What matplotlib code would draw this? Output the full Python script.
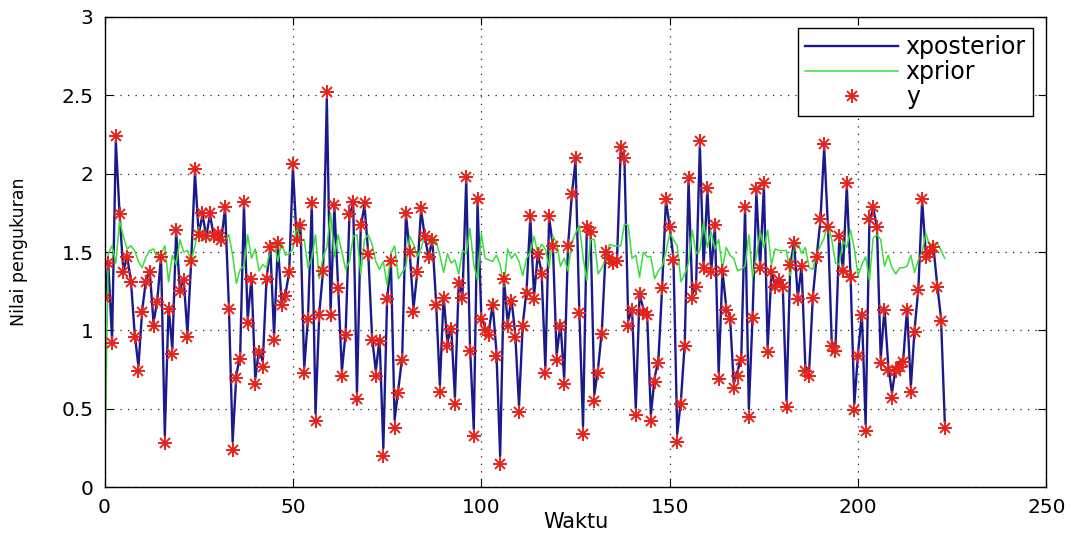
import matplotlib
matplotlib.use('Agg')
import matplotlib.pyplot as plt
from matplotlib.legend_handler import HandlerTuple
import numpy as np

y = [1.21, 1.43, 0.92, 2.24, 1.74, 1.37, 1.47, 1.31, 0.96, 0.74, 1.12, 1.31,
     1.37, 1.03, 1.18, 1.47, 0.28, 1.14, 0.85, 1.64, 1.25, 1.32, 0.96, 1.44,
     2.03, 1.61, 1.75, 1.60, 1.75, 1.60, 1.62, 1.58, 1.79, 1.14, 0.24, 0.70,
     0.82, 1.82, 1.05, 1.33, 0.66, 0.86, 0.77, 1.33, 1.53, 0.94, 1.56, 1.16,
     1.22, 1.37, 2.06, 1.58, 1.67, 0.73, 1.07, 1.81, 0.42, 1.10, 1.38, 2.52,
     1.10, 1.80, 1.27, 0.71, 0.97, 1.74, 1.82, 0.56, 1.67, 1.81, 1.49, 0.94,
     0.71, 0.93, 0.20, 1.20, 1.44, 0.38, 0.60, 0.81, 1.75, 1.50, 1.12, 1.37,
     1.78, 1.60, 1.47, 1.58, 1.16, 0.61, 1.21, 0.90, 1.01, 0.53, 1.30, 1.21,
     1.98, 0.87, 0.33, 1.84, 1.07, 1.00, 0.97, 1.16, 0.84, 0.15, 1.33, 1.03,
     1.19, 0.96, 0.48, 1.03, 1.24, 1.73, 1.20, 1.49, 1.36, 0.73, 1.73, 1.54,
     0.81, 1.03, 0.66, 1.54, 1.87, 2.10, 1.11, 0.34, 1.66, 1.63, 0.55, 0.73,
     0.98, 1.50, 1.46, 1.43, 1.44, 2.17, 2.10, 1.03, 1.13, 0.46, 1.23, 1.12,
     1.10, 0.42, 0.67, 0.79, 1.27, 1.84, 1.66, 1.45, 0.29, 0.53, 0.90, 1.97,
     1.21, 1.28, 2.21, 1.40, 1.91, 1.37, 1.67, 0.69, 1.38, 1.13, 1.07, 0.63,
     0.71, 0.81, 1.79, 0.45, 1.08, 1.90, 1.40, 1.94, 0.86, 1.37, 1.28, 1.32,
     1.28, 0.51, 1.42, 1.56, 1.20, 1.41, 0.74, 0.71, 1.21, 1.47, 1.71, 2.19,
     1.66, 0.90, 0.87, 1.60, 1.38, 1.94, 1.34, 0.49, 0.84, 1.10, 0.36, 1.71,
     1.79, 1.66, 0.79, 1.13, 0.75, 0.57, 0.74, 0.77, 0.80, 1.13, 0.61, 0.99,
     1.26, 1.84, 1.47, 1.50, 1.53, 1.28, 1.06, 0.38]

# green line
xprior = [0.00, 1.49, 1.54, 1.43, 1.70, 1.60, 1.52, 1.54, 1.51, 1.44, 1.40, 1.47,
          1.51, 1.52, 1.46, 1.49, 1.54, 1.31, 1.48, 1.42, 1.58, 1.50, 1.51, 1.44,
          1.54, 1.66, 1.57, 1.60, 1.57, 1.60, 1.57, 1.57, 1.57, 1.61, 1.48, 1.30,
          1.39, 1.41, 1.61, 1.46, 1.52, 1.38, 1.42, 1.40, 1.52, 1.56, 1.44, 1.56,
          1.48, 1.49, 1.52, 1.66, 1.57, 1.58, 1.40, 1.46, 1.61, 1.33, 1.47, 1.53,
          1.75, 1.47, 1.61, 1.50, 1.39, 1.44, 1.60, 1.61, 1.36, 1.58, 1.61, 1.55,
          1.44, 1.39, 1.44, 1.29, 1.49, 1.54, 1.33, 1.37, 1.41, 1.60, 1.55, 1.47,
          1.52, 1.61, 1.57, 1.54, 1.57, 1.48, 1.37, 1.49, 1.43, 1.45, 1.36, 1.51,
          1.49, 1.65, 1.42, 1.32, 1.62, 1.46, 1.45, 1.44, 1.48, 1.42, 1.28, 1.52,
          1.46, 1.49, 1.44, 1.35, 1.46, 1.50, 1.60, 1.49, 1.55, 1.52, 1.40, 1.60,
          1.56, 1.41, 1.46, 1.38, 1.56, 1.62, 1.67, 1.47, 1.32, 1.58, 1.58, 1.36,
          1.40, 1.45, 1.55, 1.54, 1.54, 1.54, 1.68, 1.67, 1.46, 1.48, 1.34, 1.50,
          1.47, 1.47, 1.33, 1.38, 1.41, 1.50, 1.62, 1.58, 1.54, 1.31, 1.36, 1.43,
          1.64, 1.49, 1.51, 1.69, 1.53, 1.63, 1.52, 1.58, 1.39, 1.53, 1.48, 1.46,
          1.38, 1.39, 1.41, 1.61, 1.34, 1.47, 1.63, 1.53, 1.64, 1.42, 1.52, 1.51,
          1.51, 1.51, 1.35, 1.53, 1.56, 1.49, 1.53, 1.40, 1.39, 1.49, 1.54, 1.59,
          1.69, 1.58, 1.43, 1.42, 1.57, 1.53, 1.64, 1.52, 1.35, 1.42, 1.47, 1.32,
          1.59, 1.61, 1.58, 1.41, 1.48, 1.40, 1.36, 1.40, 1.40, 1.41, 1.48, 1.37,
          1.45, 1.50, 1.62, 1.54, 1.55, 1.56, 1.51, 1.46]

# blue line
xposterior = [1.16, 1.43, 0.94, 2.21, 1.74, 1.38, 1.47, 1.32, 0.98, 0.77, 1.13, 1.32,
              1.38, 1.05, 1.19, 1.47, 0.33, 1.15, 0.88, 1.63, 1.26, 1.33, 0.98, 1.44,
              2.01, 1.61, 1.74, 1.60, 1.74, 1.60, 1.62, 1.58, 1.78, 1.16, 0.29, 0.72,
              0.84, 1.80, 1.07, 1.34, 0.69, 0.88, 0.80, 1.33, 1.53, 0.97, 1.55, 1.18,
              1.23, 1.37, 2.04, 1.58, 1.67, 0.76, 1.08, 1.80, 0.47, 1.11, 1.38, 2.48,
              1.13, 1.79, 1.28, 0.74, 0.99, 1.73, 1.81, 0.60, 1.66, 1.80, 1.49, 0.96,
              0.74, 0.95, 0.25, 1.20, 1.44, 0.43, 0.63, 0.83, 1.74, 1.50, 1.14, 1.37,
              1.77, 1.60, 1.47, 1.58, 1.18, 0.65, 1.22, 0.92, 1.03, 0.57, 1.30, 1.22,
              1.96, 0.90, 0.37, 1.82, 1.09, 1.02, 0.99, 1.17, 0.87, 0.20, 1.33, 1.05,
              1.20, 0.98, 0.52, 1.04, 1.25, 1.72, 1.22, 1.49, 1.37, 0.76, 1.72, 1.54,
              0.84, 1.05, 0.69, 1.53, 1.86, 2.08, 1.13, 0.39, 1.65, 1.63, 0.59, 0.76,
              1.00, 1.50, 1.46, 1.43, 1.44, 2.15, 2.08, 1.06, 1.14, 0.50, 1.23, 1.14,
              1.11, 0.46, 0.70, 0.81, 1.28, 1.83, 1.66, 1.46, 0.34, 0.56, 0.92, 1.95,
              1.23, 1.29, 2.18, 1.41, 1.90, 1.38, 1.66, 0.73, 1.38, 1.15, 1.09, 0.66,
              0.74, 0.83, 1.78, 0.50, 1.09, 1.88, 1.41, 1.92, 0.89, 1.37, 1.29, 1.33,
              1.29, 0.55, 1.42, 1.56, 1.21, 1.41, 0.77, 0.74, 1.22, 1.47, 1.70, 2.17,
              1.66, 0.93, 0.89, 1.59, 1.39, 1.92, 1.35, 0.53, 0.86, 1.11, 0.40, 1.69,
              1.78, 1.66, 0.82, 1.14, 0.78, 0.60, 0.77, 0.80, 0.82, 1.14, 0.64, 1.01,
              1.27, 1.83, 1.48, 1.50, 1.53, 1.29, 1.08, 0.42]

waktu = np.arange(len(y))

xticks = [0, 50, 100, 150, 200, 250]
yticks = [0, 0.5, 1, 1.5, 2, 2.5, 3]
ytick_labels = ['0', '0.5', '1', '1.5', '2', '2.5', '3']

fig = plt.figure(figsize=(10.72, 5.37), dpi=100)
ax = fig.add_axes([0.0975, 0.0926, 0.8787, 0.876])

l1, = ax.plot(waktu, xposterior, color='#1a1a8c', lw=1.7)
l2, = ax.plot(waktu, xprior, color='#3ade3a', lw=1.1)
# matlab '*' marker = '+' on top of 'x'
s1, = ax.plot(waktu, y, ls='none', marker='+', ms=9.5, mew=1.4, color='#e3241c')
s2, = ax.plot(waktu, y, ls='none', marker='x', ms=7, mew=1.4, color='#e3241c')

ax.set_xlim(0, 250)
ax.set_ylim(0, 3)
ax.set_xticks(xticks)
ax.set_yticks(yticks)
ax.set_yticklabels(ytick_labels)
ax.tick_params(direction='in', top=True, right=True, length=6, width=0.8,
               labelsize=14.5, pad=8)
ax.grid(True, color='#222222', linestyle=(0, (1, 5)), lw=0.9)
for sp in ax.spines.values():
    sp.set_linewidth(1.0)

ax.set_xlabel('Waktu', fontsize=15)
ax.xaxis.set_label_coords(0.5, -0.052)
ax.set_ylabel('Nilai pengukuran', fontsize=12.5)
ax.yaxis.set_label_coords(-0.081, 0.5)

leg = ax.legend([l1, l2, (s1, s2)], ['xposterior', 'xprior', 'y'],
                handler_map={tuple: HandlerTuple(ndivide=1, pad=0)},
                loc='upper right', bbox_to_anchor=(0.9857, 0.977),
                borderaxespad=0, fontsize=17, handlelength=3.9,
                handletextpad=0.35, labelspacing=0.05, borderpad=0.3,
                fancybox=False, framealpha=1, edgecolor='k')
leg.get_frame().set_linewidth(1.0)

plt.savefig('out.png', dpi=100)
